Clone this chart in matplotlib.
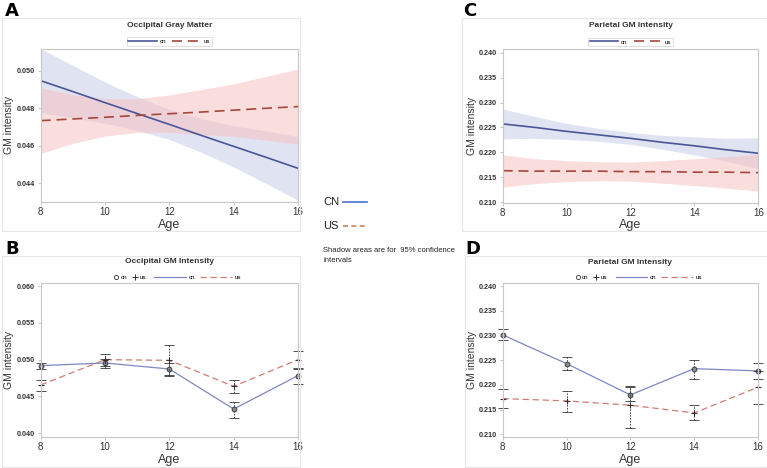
import numpy as np
import matplotlib.pyplot as plt
from matplotlib.lines import Line2D
from matplotlib.patches import Rectangle

plt.rcParams['font.family'] = ['Liberation Sans', 'DejaVu Sans']

# ---- data ----
ages = [8, 9, 10, 11, 12, 13, 14, 15, 16]
wave_ages = [8, 10, 12, 14, 16]

# A: occipital, fitted lines with 95% CI
occ_cn_fit = [0.04947, 0.04889, 0.04830, 0.04772, 0.04714, 0.04655, 0.04597, 0.04539, 0.04480]
occ_cn_lo = [0.04777, 0.04749, 0.04720, 0.04682, 0.04634, 0.04565, 0.04487, 0.04399, 0.04310]
occ_cn_hi = [0.05117, 0.05029, 0.04940, 0.04862, 0.04794, 0.04745, 0.04707, 0.04679, 0.04650]
occ_us_fit = [0.04734, 0.04743, 0.04752, 0.04762, 0.04771, 0.04780, 0.04790, 0.04800, 0.04809]
occ_us_lo = [0.04559, 0.04613, 0.04652, 0.04672, 0.04671, 0.04660, 0.04650, 0.04630, 0.04609]
occ_us_hi = [0.04909, 0.04873, 0.04852, 0.04852, 0.04871, 0.04900, 0.04930, 0.04970, 0.05009]

# C: parietal, fitted lines with 95% CI
par_cn_fit = [0.2257, 0.2250, 0.2242, 0.2235, 0.2228, 0.2220, 0.2213, 0.2205, 0.2198]
par_cn_lo = [0.2227, 0.2228, 0.2226, 0.2222, 0.2216, 0.2206, 0.2195, 0.2182, 0.2167]
par_cn_hi = [0.2287, 0.2272, 0.2258, 0.2248, 0.2240, 0.2234, 0.2231, 0.2228, 0.2229]
par_us_fit = [0.2163, 0.2162, 0.2162, 0.2162, 0.2161, 0.2161, 0.2160, 0.2160, 0.2159]
par_us_lo = [0.2130, 0.2137, 0.2141, 0.2143, 0.2142, 0.2138, 0.2133, 0.2128, 0.2122]
par_us_hi = [0.2195, 0.2187, 0.2183, 0.2181, 0.2180, 0.2183, 0.2187, 0.2191, 0.2196]

# B: occipital means per wave
occ_cn_mean = [0.04919, 0.04955, 0.04873, 0.04330, 0.04783]
occ_cn_bar_lo = [0.04870, 0.04890, 0.04790, 0.04210, 0.04670]
occ_cn_bar_hi = [0.04960, 0.05010, 0.04950, 0.04430, 0.04890]
occ_us_mean = [0.04656, 0.05000, 0.04991, 0.04638, 0.05000]
occ_us_bar_lo = [0.04570, 0.04920, 0.04780, 0.04550, 0.04880]
occ_us_bar_hi = [0.04730, 0.05080, 0.05200, 0.04720, 0.05120]

# D: parietal means per wave
par_cn_mean = [0.23014, 0.22432, 0.21797, 0.22330, 0.22284]
par_cn_bar_lo = [0.22920, 0.22300, 0.21680, 0.22115, 0.22110]
par_cn_bar_hi = [0.23130, 0.22560, 0.21955, 0.22514, 0.22446]
par_us_mean = [0.21723, 0.21676, 0.21588, 0.21432, 0.21953]
par_us_bar_lo = [0.21527, 0.21459, 0.21130, 0.21280, 0.21610]
par_us_bar_hi = [0.21919, 0.21885, 0.21970, 0.21600, 0.22290]

CN_DARK = '#4b5697'
US_DARK = '#a8453c'
CN_SHADE = '#ccd1ea'
US_SHADE = '#f6c2c2'
CN_LIGHT = '#7f86c2'
US_LIGHT = '#cf7c74'
GRID = '#c8c8c8'
TXT = '#333333'

fig = plt.figure(figsize=(7.67, 4.68), dpi=100)
W, H = 767.0, 468.0


def px_axes(x0, y0, x1, y1):
    return fig.add_axes([x0 / W, 1 - y1 / H, (x1 - x0) / W, (y1 - y0) / H])


def panel_frame(x0, y0, x1, y1):
    fig.patches.append(Rectangle((x0 / W, 1 - y1 / H), (x1 - x0) / W, (y1 - y0) / H,
                                 transform=fig.transFigure, fill=False,
                                 edgecolor='#e6e6e6', linewidth=0.8))


def style_axes(ax, yticks, ylim, ylab_x, xlab_y):
    ax.set_xlim(8, 16)
    ax.set_ylim(*ylim)
    ax.set_xticks(wave_ages)
    ax.set_xticklabels([str(a) for a in wave_ages], fontsize=7)
    ax.set_yticks(yticks)
    ax.set_yticklabels(['%.3f' % v for v in yticks], fontsize=5.2, fontweight='bold')
    for s in ax.spines.values():
        s.set_color(GRID)
        s.set_linewidth(0.8)
    ax.tick_params(axis='both', colors=GRID, length=2.5, width=0.7, pad=1.5)
    for lab in ax.get_xticklabels() + ax.get_yticklabels():
        lab.set_color(TXT)
    ax.set_ylabel('GM intensity', fontsize=7.5, color=TXT, va='center')
    ax.set_xlabel('Age', fontsize=9, color=TXT, va='center')
    ax.yaxis.set_label_coords(ylab_x, 0.5)
    ax.xaxis.set_label_coords(0.5, xlab_y)


def fit_panel(ax, cn_fit, cn_lo, cn_hi, us_fit, us_lo, us_hi, title):
    ax.fill_between(ages, cn_lo, cn_hi, color=CN_SHADE, alpha=0.6, linewidth=0)
    ax.fill_between(ages, us_lo, us_hi, color=US_SHADE, alpha=0.55, linewidth=0)
    ax.plot(ages, cn_fit, color=CN_DARK, lw=1.2, label='cn')
    ax.plot(ages, us_fit, color=US_DARK, lw=1.2, ls=(0, (6, 3.5)), label='us')
    ax.set_title(title, fontsize=6, fontweight='bold', color=TXT, pad=16)
    leg = ax.legend(loc='lower center', bbox_to_anchor=(0.5, 1.0), ncol=2, fontsize=4.5,
                    frameon=True, fancybox=False, handlelength=4.5, borderpad=0.25,
                    columnspacing=1.0, handletextpad=0.5)
    leg.get_frame().set_edgecolor('#d0d0d0')
    leg.get_frame().set_linewidth(0.6)


def wave_panel(ax, cn_m, cn_lo, cn_hi, us_m, us_lo, us_hi, title, split):
    ax.plot(wave_ages, cn_m, color=CN_LIGHT, lw=0.9)
    ax.plot(wave_ages, us_m, color=US_LIGHT, lw=0.9, ls=(0, (5, 3)))
    for m, lo, hi, mk in [(cn_m, cn_lo, cn_hi, 'o'), (us_m, us_lo, us_hi, '+')]:
        err = [np.array(m) - np.array(lo), np.array(hi) - np.array(m)]
        eb = ax.errorbar(wave_ages, m, yerr=err, fmt='none', ecolor='#333333',
                         elinewidth=0.6, capsize=3.5, capthick=0.6)
        eb[2][0].set_linestyle((0, (2, 1.5)))
        eb[2][0].set_clip_on(False)
        for c in eb[1]:
            c.set_clip_on(False)
        if mk == 'o':
            ax.plot(wave_ages, m, 'o', ms=3.5, mfc='#888888', mec='#333333', mew=0.6,
                    clip_on=False)
        else:
            ax.plot(wave_ages, m, '+', ms=5, mec='#333333', mew=0.8, clip_on=False)
    ax.set_title(title, fontsize=6, fontweight='bold', color=TXT, pad=14)
    mk_handles = [Line2D([], [], ls='none', marker='o', ms=3, mfc='none', mec='#333333', mew=0.6),
                  Line2D([], [], ls='none', marker='+', ms=4, mec='#333333', mew=0.7)]
    ln_handles = [Line2D([], [], color=CN_LIGHT, lw=0.9),
                  Line2D([], [], color=US_LIGHT, lw=0.9, ls=(0, (5, 3)))]
    leg1 = ax.legend(mk_handles, ['cn', 'us'], loc='lower right', bbox_to_anchor=(split, 0.99),
                     ncol=2, fontsize=4.5, frameon=False, handlelength=0.8,
                     columnspacing=0.8, handletextpad=0.3, borderpad=0.2)
    ax.add_artist(leg1)
    ax.legend(ln_handles, ['cn', 'us'], loc='lower left', bbox_to_anchor=(split, 0.99),
              ncol=2, fontsize=4.5, frameon=False, handlelength=5,
              columnspacing=0.8, handletextpad=0.5, borderpad=0.2)


# panel frames
panel_frame(2, 18, 300, 231)
panel_frame(2, 256, 300, 467)
panel_frame(462, 18, 767, 231)
panel_frame(465, 256, 767, 467)

# A
axA = px_axes(40.7, 49, 298, 201.7)
fit_panel(axA, occ_cn_fit, occ_cn_lo, occ_cn_hi, occ_us_fit, occ_us_lo, occ_us_hi,
          'Occipital Gray Matter')
style_axes(axA, [0.044, 0.046, 0.048, 0.050], (0.04302, 0.05116), -0.125, -0.15)

# B
axB = px_axes(40.7, 282.7, 298, 436.7)
wave_panel(axB, occ_cn_mean, occ_cn_bar_lo, occ_cn_bar_hi,
           occ_us_mean, occ_us_bar_lo, occ_us_bar_hi, 'Occipital GM Intensity', 0.425)
style_axes(axB, [0.040, 0.045, 0.050, 0.055, 0.060], (0.03954, 0.06045), -0.125, -0.153)

# C
axC = px_axes(502.7, 49.3, 758.3, 202.5)
fit_panel(axC, par_cn_fit, par_cn_lo, par_cn_hi, par_us_fit, par_us_lo, par_us_hi,
          'Parietal GM Intensity')
style_axes(axC, [0.210, 0.215, 0.220, 0.225, 0.230, 0.235, 0.240], (0.2099, 0.2407),
           -0.12, -0.147)

# D
axD = px_axes(502.7, 283.3, 758, 436.7)
wave_panel(axD, par_cn_mean, par_cn_bar_lo, par_cn_bar_hi,
           par_us_mean, par_us_bar_lo, par_us_bar_hi, 'Parietal GM Intensity', 0.425)
style_axes(axD, [0.210, 0.215, 0.220, 0.225, 0.230, 0.235, 0.240], (0.2095, 0.2406),
           -0.12, -0.153)

# panel letters
for lab, x, y in [('A', 5, 11), ('B', 5, 249), ('C', 463, 11), ('D', 465, 249)]:
    fig.text(x / W, 1 - y / H, lab, fontsize=13, fontweight='bold', va='center', ha='left',
             family='DejaVu Sans')

# middle legend
fig.text(323 / W, 1 - 202 / H, 'CN', fontsize=8, va='center', color='#222222')
fig.add_artist(Line2D([343 / W, 367 / W], [1 - 202 / H, 1 - 202 / H], color='#4a6fd0', lw=1.2))
fig.text(323 / W, 1 - 226 / H, 'US', fontsize=8, va='center', color='#222222')
fig.add_artist(Line2D([343 / W, 367 / W], [1 - 226 / H, 1 - 226 / H], color='#c9845a', lw=1.2,
                      ls=(0, (3, 2))))
fig.text(323 / W, 1 - 250 / H, 'Shadow areas are for  95% confidence', fontsize=5.5,
         va='center', color='#222222')
fig.text(323 / W, 1 - 260 / H, 'intervals', fontsize=5.5, va='center', color='#222222')

fig.savefig('out.png', dpi=100)
